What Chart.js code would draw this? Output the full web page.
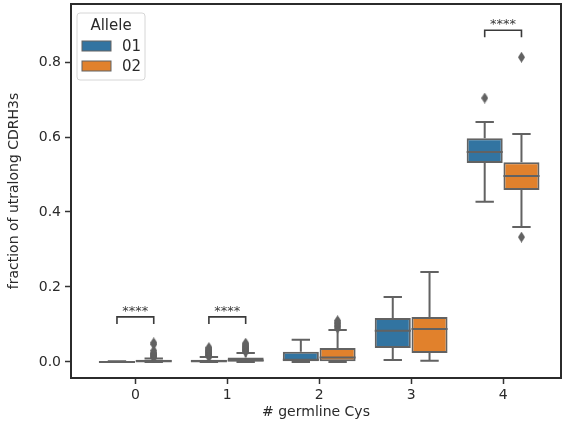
<!DOCTYPE html>
<html lang="en">
<head>
<meta charset="UTF-8">
<title>Ultralong CDRH3s by germline Cys</title>
<script src="https://cdn.jsdelivr.net/npm/chart.js"></script>
<style>
    body, html { margin: 0; padding: 0; background: #fff; }
</style>
</head>
<body>
<canvas id="boxChart" width="563" height="423"></canvas>
<script>
// categories on the x axis and the two alleles (hue)
const categories = [0, 1, 2, 3, 4];
const alleles = ['01', '02'];

// allele 01 box stats, one value per category
const lo_01  = [0.000, 0.000, 0.000, 0.005, 0.427];
const q1_01  = [0.000, 0.000, 0.002, 0.037, 0.531];
const med_01 = [0.000, 0.002, 0.006, 0.083, 0.560];
const q3_01  = [0.001, 0.006, 0.027, 0.117, 0.597];
const hi_01  = [0.002, 0.013, 0.059, 0.173, 0.640];
const fl_01  = [[], [0.014, 0.016, 0.018, 0.020, 0.022, 0.024, 0.026, 0.028, 0.030, 0.032, 0.035, 0.038], [], [], [0.704]];

// allele 02 box stats
const lo_02  = [0.000, 0.000, 0.000, 0.003, 0.360];
const q1_02  = [0.000, 0.001, 0.002, 0.024, 0.459];
const med_02 = [0.002, 0.004, 0.012, 0.088, 0.496];
const q3_02  = [0.006, 0.012, 0.037, 0.120, 0.533];
const hi_02  = [0.009, 0.024, 0.085, 0.240, 0.608];
const fl_02  = [[0.012, 0.014, 0.016, 0.018, 0.020, 0.022, 0.024, 0.030, 0.047, 0.051],
                [0.027, 0.029, 0.031, 0.033, 0.035, 0.037, 0.039, 0.041, 0.044, 0.047, 0.050],
                [0.090, 0.094, 0.098, 0.102, 0.106, 0.110], [], [0.333, 0.813]];

// significance brackets
const sigCats   = [0, 1, 4];
const sigY      = [0.120, 0.120, 0.885];
const sigLabels = ['****', '****', '****'];

const yTicks = [0, 0.2, 0.4, 0.6, 0.8];

// styles
const BLUE = '#3274a1';
const ORANGE = '#e1812c';
const GRAY = '#626262';
const TEXT = '#2a2a2a';
const FONT = 'DejaVu Sans';
const HALF = 0.2;     // offset of each hue box from the category
const CAP = 0.1;      // half width of whisker caps
const DROP = 0.019;   // bracket leg length (data units)

// thin diamond marker like matplotlib 'd'
function diamond(w, h, color) {
    const c = document.createElement('canvas');
    c.width = w; c.height = h;
    const g = c.getContext('2d');
    g.fillStyle = color;
    g.beginPath();
    g.moveTo(w / 2, 0); g.lineTo(w, h / 2); g.lineTo(w / 2, h); g.lineTo(0, h / 2);
    g.closePath();
    g.fill();
    return c;
}

function boxData(off, q1, q3) {
    return categories.map((c, i) => ({ x: c + off, y: [q1[i], q3[i]] }));
}

function whiskerData(off, lo, q1, q3, hi) {
    const pts = [];
    categories.forEach((c, i) => {
        const x = c + off;
        pts.push({ x: x, y: q1[i] }, { x: x, y: lo[i] }, { x: x, y: null });
        pts.push({ x: x, y: q3[i] }, { x: x, y: hi[i] }, { x: x, y: null });
        pts.push({ x: x - CAP, y: lo[i] }, { x: x + CAP, y: lo[i] }, { x: x, y: null });
        pts.push({ x: x - CAP, y: hi[i] }, { x: x + CAP, y: hi[i] }, { x: x, y: null });
    });
    return pts;
}

function medianData(off, med) {
    const pts = [];
    categories.forEach((c, i) => {
        pts.push({ x: c + off - HALF * 0.98, y: med[i] }, { x: c + off + HALF * 0.98, y: med[i] }, { x: c, y: null });
    });
    return pts;
}

function flierData(off, fl) {
    const pts = [];
    categories.forEach((c, i) => fl[i].forEach(v => pts.push({ x: c + off, y: v })));
    return pts;
}

function bracketData() {
    const pts = [];
    sigCats.forEach((c, i) => {
        const y = sigY[i];
        pts.push({ x: c - HALF, y: y - DROP }, { x: c - HALF, y: y }, { x: c + HALF, y: y }, { x: c + HALF, y: y - DROP }, { x: c, y: null });
    });
    return pts;
}

const lineStyle = { type: 'line', borderColor: GRAY, borderWidth: 2, pointRadius: 0, spanGaps: false, fill: false, tension: 0 };
const flierMarker = diamond(7, 11, GRAY);

const datasets = [
    { type: 'bar', label: alleles[0], data: boxData(-HALF, q1_01, q3_01), backgroundColor: BLUE, order: 3 },
    { type: 'bar', label: alleles[1], data: boxData(HALF, q1_02, q3_02), backgroundColor: ORANGE, order: 3 },
    Object.assign({ label: 'whiskers 01', data: whiskerData(-HALF, lo_01, q1_01, q3_01, hi_01), order: 4 }, lineStyle),
    Object.assign({ label: 'whiskers 02', data: whiskerData(HALF, lo_02, q1_02, q3_02, hi_02), order: 4 }, lineStyle),
    Object.assign({ label: 'median 01', data: medianData(-HALF, med_01), order: 1 }, lineStyle),
    Object.assign({ label: 'median 02', data: medianData(HALF, med_02), order: 1 }, lineStyle),
    { type: 'scatter', label: 'fliers', data: flierData(-HALF, fl_01).concat(flierData(HALF, fl_02)),
      pointStyle: flierMarker, pointRadius: 5, order: 0 },
    Object.assign({ label: 'brackets', data: bracketData(), order: 0 }, lineStyle, { borderColor: '#3a3a3a', borderWidth: 1.6 })
];

datasets.forEach(d => {
    if (d.type === 'bar') {
        d.grouped = false;
        d.categoryPercentage = 1;
        d.barPercentage = 0.98;
        d.borderColor = GRAY;
        d.borderWidth = 2;
        d.borderSkipped = false;
    }
});

// frame, star labels and legend
const decorations = {
    id: 'decorations',
    afterDraw(chart) {
        const ctx = chart.ctx;
        const a = chart.chartArea;
        const xs = chart.scales.x, ys = chart.scales.y;
        ctx.save();

        // axes frame
        ctx.strokeStyle = '#2b2b2b';
        ctx.lineWidth = 2;
        ctx.strokeRect(a.left, a.top, a.right - a.left, a.bottom - a.top);

        // significance stars
        ctx.fillStyle = '#3a3a3a';
        ctx.font = '13px ' + FONT;
        ctx.textAlign = 'center';
        ctx.textBaseline = 'alphabetic';
        sigCats.forEach((c, i) => {
            ctx.fillText(sigLabels[i], xs.getPixelForValue(c), ys.getPixelForValue(sigY[i]) - 2);
        });

        // legend
        const lx = a.left + 6, ly = a.top + 9, lw = 68, lh = 67;
        ctx.fillStyle = 'rgba(255,255,255,0.8)';
        ctx.strokeStyle = '#d6d6d6';
        ctx.lineWidth = 1;
        ctx.beginPath();
        ctx.roundRect(lx, ly, lw, lh, 3);
        ctx.fill();
        ctx.stroke();
        ctx.fillStyle = TEXT;
        ctx.font = '15px ' + FONT;
        ctx.textAlign = 'center';
        ctx.textBaseline = 'middle';
        ctx.fillText('Allele', lx + lw / 2, ly + 13);
        [BLUE, ORANGE].forEach((col, i) => {
            const yy = ly + 33 + i * 20;
            ctx.fillStyle = col;
            ctx.fillRect(lx + 5, yy - 5, 29, 10);
            ctx.strokeStyle = GRAY;
            ctx.lineWidth = 1;
            ctx.strokeRect(lx + 5, yy - 5, 29, 10);
            ctx.fillStyle = TEXT;
            ctx.textAlign = 'left';
            ctx.fillText(alleles[i], lx + 45, yy + 1);
        });
        ctx.restore();
    }
};

new Chart(document.getElementById('boxChart'), {
    type: 'bar',
    data: { datasets: datasets },
    options: {
        responsive: false,
        animation: false,
        layout: { autoPadding: false, padding: { top: 4, right: 2, left: 0, bottom: 0 } },
        plugins: { legend: { display: false }, tooltip: { enabled: false } },
        scales: {
            x: {
                type: 'linear',
                min: -0.7,
                max: 4.63,
                offset: false,
                border: { display: false },
                grid: { display: true, offset: false, drawOnChartArea: false, drawTicks: true, tickLength: 6, tickWidth: 1.5, tickColor: '#333' },
                ticks: { color: TEXT, font: { family: FONT, size: 14 }, padding: 3, callback: v => String(v) },
                afterBuildTicks: s => { s.ticks = categories.map(v => ({ value: v })); },
                afterFit: s => { s.height = 45; s.paddingLeft = 0; s.paddingRight = 0; },
                title: { display: true, text: '# germline Cys', color: TEXT, font: { family: FONT, size: 14 }, padding: { top: 2, bottom: 2 } }
            },
            y: {
                min: -0.043,
                max: 0.955,
                border: { display: false },
                grid: { display: true, drawOnChartArea: false, drawTicks: true, tickLength: 6, tickWidth: 1.5, tickColor: '#333' },
                ticks: { color: TEXT, font: { family: FONT, size: 14 }, padding: 4, callback: v => v.toFixed(1) },
                afterBuildTicks: s => { s.ticks = yTicks.map(v => ({ value: v })); },
                afterFit: s => { s.width = 71; s.paddingTop = 0; s.paddingBottom = 0; },
                title: { display: true, text: 'fraction of utralong CDRH3s', color: TEXT, font: { family: FONT, size: 14 }, padding: { top: 6, bottom: 2 } }
            }
        }
    },
    plugins: [decorations]
});
</script>
</body>
</html>
